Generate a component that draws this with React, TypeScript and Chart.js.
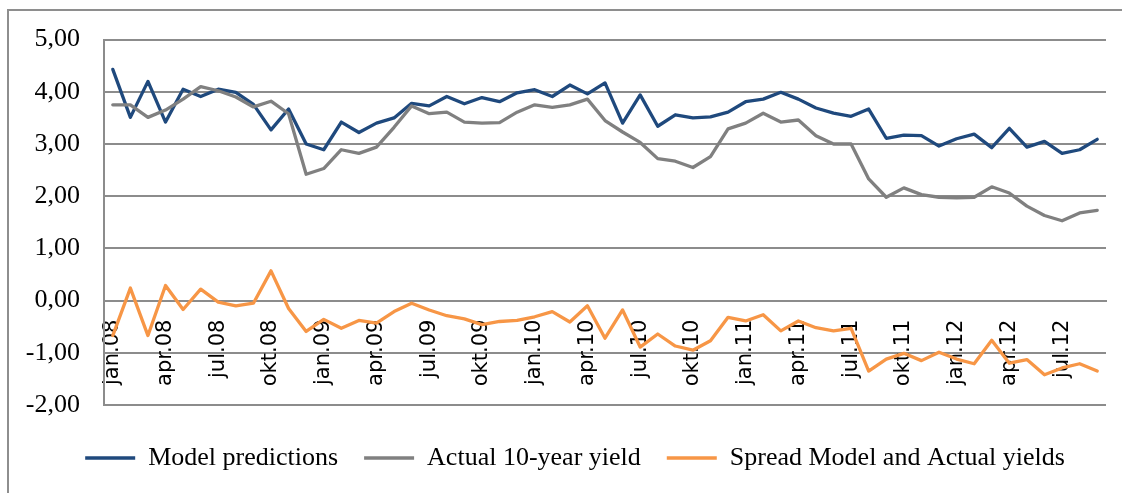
import React, { useEffect, useRef } from 'react';
import { Chart, registerables } from 'chart.js';

Chart.register(...registerables);

const categories = [
  'jan.08', 'feb.08', 'mar.08', 'apr.08', 'mai.08', 'jun.08', 'jul.08', 'aug.08', 'sep.08', 'okt.08', 'nov.08', 'des.08',
  'jan.09', 'feb.09', 'mar.09', 'apr.09', 'mai.09', 'jun.09', 'jul.09', 'aug.09', 'sep.09', 'okt.09', 'nov.09', 'des.09',
  'jan.10', 'feb.10', 'mar.10', 'apr.10', 'mai.10', 'jun.10', 'jul.10', 'aug.10', 'sep.10', 'okt.10', 'nov.10', 'des.10',
  'jan.11', 'feb.11', 'mar.11', 'apr.11', 'mai.11', 'jun.11', 'jul.11', 'aug.11', 'sep.11', 'okt.11', 'nov.11', 'des.11',
  'jan.12', 'feb.12', 'mar.12', 'apr.12', 'mai.12', 'jun.12', 'jul.12', 'aug.12', 'sep.12',
];

const modelPredictions = [
  4.43, 3.51, 4.20, 3.42, 4.05, 3.91, 4.05, 3.99, 3.76, 3.27, 3.67, 3.00,
  2.89, 3.42, 3.22, 3.40, 3.50, 3.78, 3.73, 3.91, 3.77, 3.89, 3.81, 3.98,
  4.04, 3.91, 4.13, 3.96, 4.17, 3.40, 3.94, 3.34, 3.56, 3.50, 3.52, 3.61,
  3.81, 3.86, 3.99, 3.86, 3.69, 3.59, 3.53, 3.67, 3.11, 3.17, 3.16, 2.96,
  3.10, 3.19, 2.93, 3.30, 2.94, 3.05, 2.82, 2.89, 3.09,
];

const actualYield = [
  3.75, 3.75, 3.51, 3.65, 3.86, 4.10, 4.02, 3.90, 3.71, 3.82, 3.58, 2.42,
  2.53, 2.89, 2.82, 2.94, 3.32, 3.73, 3.58, 3.61, 3.42, 3.40, 3.41, 3.61,
  3.75, 3.70, 3.75, 3.86, 3.45, 3.23, 3.03, 2.72, 2.67, 2.55, 2.76, 3.29,
  3.40, 3.59, 3.42, 3.46, 3.16, 3.00, 3.00, 2.33, 1.98, 2.16, 2.03, 1.98,
  1.97, 1.98, 2.18, 2.06, 1.81, 1.63, 1.53, 1.68, 1.73,
];

const spreadYields = [
  -0.67, 0.24, -0.67, 0.29, -0.17, 0.22, -0.03, -0.10, -0.05, 0.57, -0.15, -0.59,
  -0.36, -0.53, -0.38, -0.43, -0.21, -0.05, -0.18, -0.29, -0.35, -0.46, -0.40, -0.38,
  -0.31, -0.21, -0.41, -0.10, -0.72, -0.18, -0.89, -0.64, -0.87, -0.95, -0.77, -0.32,
  -0.39, -0.27, -0.58, -0.39, -0.52, -0.58, -0.53, -1.35, -1.12, -1.01, -1.15, -0.99,
  -1.12, -1.21, -0.76, -1.20, -1.13, -1.42, -1.29, -1.21, -1.35,
];

const yTicks = [-2, -1, 0, 1, 2, 3, 4, 5];

const seriesNames = ['Model predictions', 'Actual 10-year yield', 'Spread Model and Actual yields'];
const seriesColors = ['#1F497D', '#808080', '#F79646'];

const GRID = '#8c8c8c';
const SERIF = "'Liberation Serif', 'Times New Roman', serif";

const legendShift = {
  id: 'legendShift',
  afterLayout(chart: any) {
    if (chart.legend) chart.legend.left += 44;
  },
};

export default function App() {
  const ref = useRef<HTMLCanvasElement>(null);

  useEffect(() => {
    document.body.style.overflow = 'hidden';
    const seriesData = [modelPredictions, actualYield, spreadYields];
    const chart = new Chart(ref.current as HTMLCanvasElement, {
      type: 'line',
      data: {
        labels: categories,
        datasets: seriesData.map((d, i) => ({
          label: seriesNames[i],
          data: d,
          borderColor: seriesColors[i],
          backgroundColor: seriesColors[i],
          borderWidth: 3.3,
          pointRadius: 0,
          tension: 0,
          borderJoinStyle: 'round' as const,
          borderCapStyle: 'round' as const,
          order: 2 - i,
        })),
      },
      plugins: [legendShift],
      options: {
        responsive: false,
        animation: false,
        devicePixelRatio: 1,
        layout: { padding: { left: 0, right: 16, top: 38, bottom: 12 } },
        plugins: {
          tooltip: { enabled: false },
          legend: {
            position: 'bottom',
            title: { display: true, text: ' ', font: { size: 1 }, padding: { top: 12.8, bottom: 0 } },
            labels: {
              usePointStyle: true,
              pointStyle: 'line',
              pointStyleWidth: 50,
              padding: 26,
              color: '#000',
              font: { family: SERIF, size: 26 },
              sort: (a: any, b: any) => a.datasetIndex - b.datasetIndex,
            },
          },
        },
        scales: {
          x: {
            position: { y: 0 } as any,
            offset: true,
            afterFit: (s: any) => {
              s.paddingLeft = 0;
              s.paddingRight = 0;
            },
            grid: { display: false, drawTicks: false },
            border: { display: true, color: GRID, width: 2 },
            ticks: {
              autoSkip: false,
              maxRotation: 90,
              minRotation: 90,
              padding: 19,
              color: '#000',
              font: { family: "'DejaVu Sans', sans-serif", size: 21 },
              callback: (_v: any, i: number) => (i % 3 === 0 ? categories[i] : ''),
            },
          },
          y: {
            min: -2,
            max: 5,
            afterFit: (s: any) => {
              s.width = 104;
            },
            afterBuildTicks: (s: any) => {
              s.ticks = yTicks.map((v) => ({ value: v }));
            },
            grid: { color: GRID, lineWidth: 2, drawTicks: false },
            border: { display: true, color: GRID, width: 2 },
            ticks: {
              padding: 24,
              color: '#000',
              font: { family: SERIF, size: 26 },
              callback: (v: any) => Number(v).toFixed(2).replace('.', ','),
            },
          },
        },
      },
    });
    return () => chart.destroy();
  }, []);

  return (
    <div>
      <div
        style={{
          position: 'fixed',
          left: 7,
          top: 9,
          width: 2000,
          height: 2000,
          border: '2px solid #8e8e8e',
          boxSizing: 'border-box',
        }}
      />
      <canvas
        ref={ref}
        width={1122}
        height={493}
        style={{ position: 'fixed', left: 0, top: 0, width: 1122, height: 493 }}
      />
    </div>
  );
}
